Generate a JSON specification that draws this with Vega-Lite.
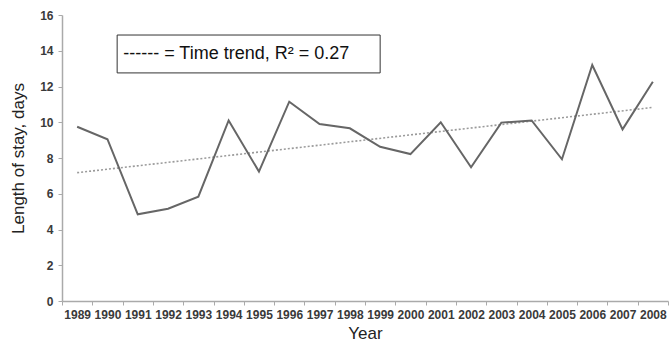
{
  "$schema": "https://vega.github.io/schema/vega-lite/v6.json",
  "width": 606,
  "height": 286,
  "autosize": {"type": "none"},
  "padding": {"left": 62, "top": 15, "right": 2, "bottom": 50},
  "background": "white",
  "config": {
    "view": {"stroke": null},
    "font": "Liberation Sans",
    "axis": {"grid": false}
  },
  "datasets": {
    "stay": [
      {"year": "1989", "days": 9.75},
      {"year": "1990", "days": 9.05},
      {"year": "1991", "days": 4.85},
      {"year": "1992", "days": 5.16},
      {"year": "1993", "days": 5.84},
      {"year": "1994", "days": 10.1},
      {"year": "1995", "days": 7.24},
      {"year": "1996", "days": 11.15},
      {"year": "1997", "days": 9.9},
      {"year": "1998", "days": 9.66},
      {"year": "1999", "days": 8.63},
      {"year": "2000", "days": 8.22},
      {"year": "2001", "days": 10.0},
      {"year": "2002", "days": 7.48},
      {"year": "2003", "days": 9.98},
      {"year": "2004", "days": 10.1},
      {"year": "2005", "days": 7.93},
      {"year": "2006", "days": 13.2},
      {"year": "2007", "days": 9.6},
      {"year": "2008", "days": 12.27}
    ],
    "trend": [
      {"year": "1989", "days": 7.18},
      {"year": "2008", "days": 10.83}
    ],
    "note": [
      {"x1": 1990.32, "x2": 1999.0, "y1": 12.76, "y2": 14.88, "tx": 1990.52, "ty": 13.82, "label": "------ = Time trend, R² = 0.27"}
    ]
  },
  "layer": [
    {
      "data": {"name": "trend"},
      "mark": {"type": "line", "color": "#9a9a9a", "strokeWidth": 1.6, "strokeDash": [2, 2]},
      "encoding": {
        "x": {"field": "year", "type": "ordinal", "scale": {"type": "band", "paddingInner": 0, "paddingOuter": 0, "domain": ["1989","1990","1991","1992","1993","1994","1995","1996","1997","1998","1999","2000","2001","2002","2003","2004","2005","2006","2007","2008"]},
          "axis": {"title": "Year", "titleFont": "Liberation Sans", "titleFontSize": 17, "titleFontWeight": "normal", "titleColor": "#222", "titlePadding": 5,
            "labelFont": "Liberation Sans", "labelFontSize": 12, "labelFontWeight": "bold", "labelColor": "#3a3a3a", "labelAngle": 0, "labelPadding": 4,
            "tickBand": "extent", "tickSize": 4, "tickColor": "#aaa", "domainColor": "#aaa", "domainWidth": 1.5}},
        "y": {"field": "days", "type": "quantitative", "scale": {"domain": [0, 16], "nice": false},
          "axis": {"title": "Length of stay, days", "values": [0,2,4,6,8,10,12,14,16], "labelOverlap": false, "titleFont": "Liberation Sans", "titleFontSize": 17, "titleFontWeight": "normal", "titleColor": "#222", "titlePadding": 12,
            "labelFont": "Liberation Sans", "labelFontSize": 12, "labelFontWeight": "bold", "labelColor": "#3a3a3a", "labelPadding": 5,
            "tickSize": 4, "tickColor": "#aaa", "domainColor": "#aaa", "domainWidth": 1.5}}
      }
    },
    {
      "data": {"name": "stay"},
      "mark": {"type": "line", "color": "#666666", "strokeWidth": 2},
      "encoding": {
        "x": {"field": "year", "type": "ordinal", "scale": {"type": "band", "paddingInner": 0, "paddingOuter": 0, "domain": ["1989","1990","1991","1992","1993","1994","1995","1996","1997","1998","1999","2000","2001","2002","2003","2004","2005","2006","2007","2008"]}, "axis": null},
        "y": {"field": "days", "type": "quantitative", "scale": {"domain": [0, 16], "nice": false}, "axis": null}
      }
    },
    {
      "data": {"name": "note"},
      "mark": {"type": "rect", "fill": "white", "stroke": "#333", "strokeWidth": 1},
      "encoding": {
        "x": {"field": "x1", "type": "quantitative", "scale": {"domain": [1988.5, 2008.5], "nice": false, "zero": false}, "axis": null},
        "x2": {"field": "x2"},
        "y": {"field": "y1", "type": "quantitative", "scale": {"domain": [0, 16], "nice": false}, "axis": null},
        "y2": {"field": "y2"}
      }
    },
    {
      "data": {"name": "note"},
      "mark": {"type": "text", "align": "left", "baseline": "middle", "font": "Liberation Sans", "fontSize": 18, "color": "#111"},
      "encoding": {
        "x": {"field": "tx", "type": "quantitative", "scale": {"domain": [1988.5, 2008.5], "nice": false, "zero": false}, "axis": null},
        "y": {"field": "ty", "type": "quantitative", "scale": {"domain": [0, 16], "nice": false}, "axis": null},
        "text": {"field": "label"}
      }
    }
  ],
  "resolve": {"scale": {"x": "independent", "y": "independent"}, "axis": {"x": "independent", "y": "independent"}}
}
